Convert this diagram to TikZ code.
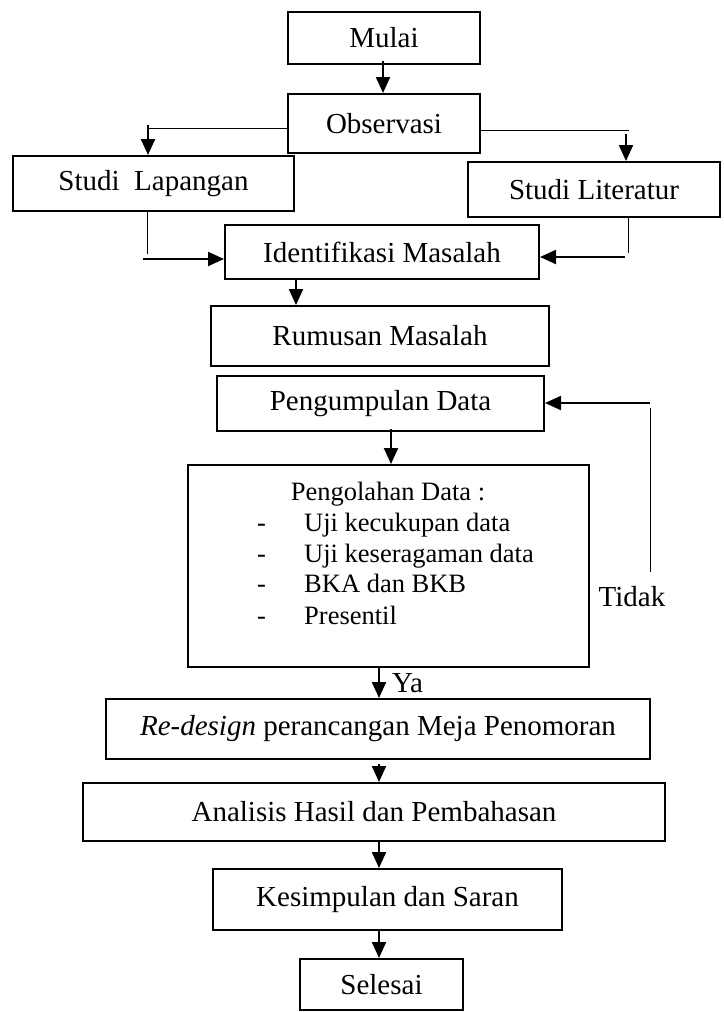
\documentclass[tikz,border=0pt]{standalone}
\usepackage{fontspec}
\setmainfont{Liberation Serif}
\usetikzlibrary{arrows.meta}
\begin{document}
\begin{tikzpicture}[x=1pt,y=-1pt,
  box/.style={draw,line width=2pt,inner sep=0pt,font=\fontsize{29}{31}\selectfont},
  arr/.style={line width=2.2pt,-{Triangle[length=16pt,width=14pt]}},
  thin/.style={line width=1pt},
  lbl/.style={inner sep=0pt,font=\fontsize{29}{31}\selectfont},
  itm/.style={inner sep=0pt,anchor=base west,font=\fontsize{26.5}{28}\selectfont}]
\useasboundingbox (0,0) rectangle (723,1012);
% boxes
\node[box,minimum width=192pt,minimum height=52pt] (mulai) at (384,38) {Mulai};
\node[box,minimum width=192pt,minimum height=59pt] (obs) at (384,123.5) {Observasi};
\node[box,minimum width=281pt,minimum height=55pt] (lap) at (153.5,183.5) {Studi\ \ Lapangan};
\node[box,minimum width=252pt,minimum height=55pt] (lit) at (594,189.5) {Studi Literatur};
\node[box,minimum width=314pt,minimum height=54pt] (iden) at (382,252) {Identifikasi Masalah};
\node[box,minimum width=338pt,minimum height=60pt] (rum) at (380,336) {Rumusan Masalah};
\node[box,minimum width=327pt,minimum height=55pt] (peng) at (380.5,403.5) {Pengumpulan Data};
\node[box,minimum width=401pt,minimum height=202pt] (olah) at (388.5,566) {};
\node[box,minimum width=544pt,minimum height=60pt] (redes) at (378,729) {\textit{Re-design} perancangan Meja Penomoran};
\node[box,minimum width=582pt,minimum height=58pt] (anal) at (374,812) {Analisis Hasil dan Pembahasan};
\node[box,minimum width=349pt,minimum height=61pt] (kes) at (387.5,899.5) {Kesimpulan dan Saran};
\node[box,minimum width=163pt,minimum height=51pt] (sel) at (381.5,984.5) {Selesai};
% contents of Pengolahan Data
\node[itm,anchor=base] (olahT) at (388,500) {Pengolahan Data :};
\node[itm] (d1) at (257,531) {-};
\node[itm] (t1) at (304,531) {Uji kecukupan data};
\node[itm] (d2) at (257,562) {-};
\node[itm] (t2) at (304,562) {Uji keseragaman data};
\node[itm] (d3) at (257,592) {-};
\node[itm] (t3) at (304,592) {BKA dan BKB};
\node[itm] (d4) at (257,624) {-};
\node[itm] (t4) at (304,624) {Presentil};
% helper coordinates
\coordinate (cL) at (148,128);
\coordinate (cLa) at (148,125);
\coordinate (cR) at (629,130);
\coordinate (cRa) at (626,134);
\coordinate (sL) at (147,254);
\coordinate (sLa) at (143,259);
\coordinate (sR) at (628,253);
\coordinate (sRa) at (625,257);
\coordinate (x296) at (296,0);
\coordinate (x391) at (391,0);
\coordinate (x379) at (379,0);
\coordinate (x383) at (383,0);
\coordinate (fb) at (650,572);
\coordinate (fbTop) at (650,408);
\coordinate (fbA) at (650,403);
% connectors
\draw[arr] ([yshift=4pt]mulai.south -| x383) -- (obs.north -| x383);
\draw[thin] (obs.west |- cL) -- (cL);
\draw[arr] (cLa) -- (cLa |- lap.north);
\draw[thin] (obs.east |- cR) -- (cR);
\draw[arr] (cRa) -- (cRa |- lit.north);
\draw[thin] (lap.south -| sL) -- (sL);
\draw[arr] (sLa) -- (sLa -| iden.west);
\draw[thin] (lit.south -| sR) -- (sR);
\draw[arr] (sRa) -- (sRa -| iden.east);
\draw[arr] (iden.south -| x296) -- (rum.north -| x296);
\draw[arr] ([yshift=3pt]peng.south -| x391) -- (olah.north -| x391);
\draw[arr] (olah.south -| x379) -- (redes.north -| x379) node[lbl,midway,right=12pt] (ya) {Ya};
\draw[arr] ([yshift=-4pt]redes.south -| x379) -- (anal.north -| x379);
\draw[arr] ([yshift=2pt]anal.south -| x379) -- (kes.north -| x379);
\draw[arr] (kes.south -| x379) -- (sel.north -| x379);
\draw[thin] (fb) -- (fbTop);
\draw[arr] (fbA) -- (fbA -| peng.east);
\node[lbl] (tidak) at (632,597) {Tidak};
\end{tikzpicture}
\end{document}
